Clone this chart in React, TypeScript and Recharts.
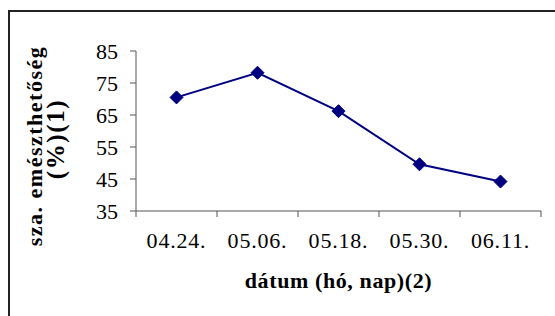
import React from 'react';
import { LineChart, Line, XAxis, YAxis, Label } from 'recharts';

const dates = ['04.24.', '05.06.', '05.18.', '05.30.', '06.11.'];
const digestibility = [70.5, 78.2, 66.2, 49.6, 44.2];
const yTicks = [35, 45, 55, 65, 75, 85];
const yTitleLines = ['sza. emészthetőség', '(%)(1)'];
const xTitle = 'dátum (hó, nap)(2)';

const data = dates.map((d, i) => ({ date: d, value: digestibility[i] }));

const FONT = '"Liberation Serif", "Times New Roman", serif';
const NAVY = '#000080';
const AXIS = '#555555';
const X_TICK_MARGIN = 21;
const X_TICK_LEN = 6;

const Diamond = (props: any) => {
  const { cx, cy } = props;
  if (cx == null || cy == null) return null;
  const r = 6.5;
  return (
    <polygon
      points={`${cx},${cy - r} ${cx + r},${cy} ${cx},${cy + r} ${cx - r},${cy}`}
      fill={NAVY}
      stroke={NAVY}
      strokeWidth={1}
    />
  );
};

const XTick = (props: any) => {
  const { x, y, payload, index, visibleTicksCount, width } = props;
  const axisY = y - X_TICK_MARGIN;
  const half =
    payload && typeof payload.offset === 'number' && payload.offset > 0
      ? payload.offset
      : width / visibleTicksCount / 2;
  const isLast = index === visibleTicksCount - 1;
  return (
    <g>
      <line x1={x - half} y1={axisY} x2={x - half} y2={axisY + X_TICK_LEN} stroke={AXIS} />
      {isLast && (
        <line x1={x + half} y1={axisY} x2={x + half} y2={axisY + X_TICK_LEN} stroke={AXIS} />
      )}
      <text
        x={x}
        y={y}
        dy="0.71em"
        textAnchor="middle"
        fontFamily={FONT}
        fontSize={22}
        letterSpacing={0.8}
        fill="#000"
      >
        {payload.value}
      </text>
    </g>
  );
};

const YTitle = () => {
  const x1 = 32;
  const y1 = 134;
  const x2 = 54;
  const y2 = 127;
  return (
    <g>
      <text
        x={x1}
        y={y1}
        transform={`rotate(-90, ${x1}, ${y1})`}
        textAnchor="middle"
        fontFamily={FONT}
        fontWeight="bold"
        fontSize={22}
        letterSpacing={1.5}
        fill="#000"
      >
        {yTitleLines[0]}
      </text>
      <text
        x={x2}
        y={y2}
        transform={`rotate(-90, ${x2}, ${y2})`}
        textAnchor="middle"
        fontFamily={FONT}
        fontWeight="bold"
        fontSize={25}
        letterSpacing={1.6}
        fill="#000"
      >
        {yTitleLines[1]}
      </text>
    </g>
  );
};

const XTitle = (props: any) => {
  const vb = props.viewBox || {};
  return (
    <text
      x={vb.x + vb.width / 2}
      y={276}
      textAnchor="middle"
      fontFamily={FONT}
      fontWeight="bold"
      fontSize={22}
      letterSpacing={0.6}
      fill="#000"
    >
      {xTitle}
    </text>
  );
};

export default function App() {
  return (
    <div
      style={{
        position: 'fixed',
        left: 8,
        top: 10,
        width: 620,
        height: 400,
        borderTop: '2px solid #222',
        borderLeft: '2px solid #222',
        background: '#fff',
      }}
    >
      <LineChart
        width={545}
        height={304}
        data={data}
        margin={{ top: 39, right: 14, bottom: 45, left: 66 }}
      >
        <XAxis
          dataKey="date"
          type="category"
          scale="band"
          axisLine={{ stroke: AXIS }}
          tickLine={false}
          tickSize={0}
          tickMargin={X_TICK_MARGIN}
          interval={0}
          height={60}
          tick={<XTick />}
        >
          <Label content={<XTitle />} />
        </XAxis>
        <YAxis
          domain={[35, 85]}
          ticks={yTicks}
          interval={0}
          width={60}
          tickSize={6}
          tickMargin={12}
          tickLine={{ stroke: AXIS }}
          axisLine={{ stroke: AXIS }}
          tick={{ fontFamily: FONT, fontSize: 22, fill: '#000' }}
        >
          <Label content={<YTitle />} />
        </YAxis>
        <Line
          dataKey="value"
          stroke={NAVY}
          strokeWidth={2}
          dot={<Diamond />}
          activeDot={false}
          isAnimationActive={false}
        />
      </LineChart>
    </div>
  );
}
